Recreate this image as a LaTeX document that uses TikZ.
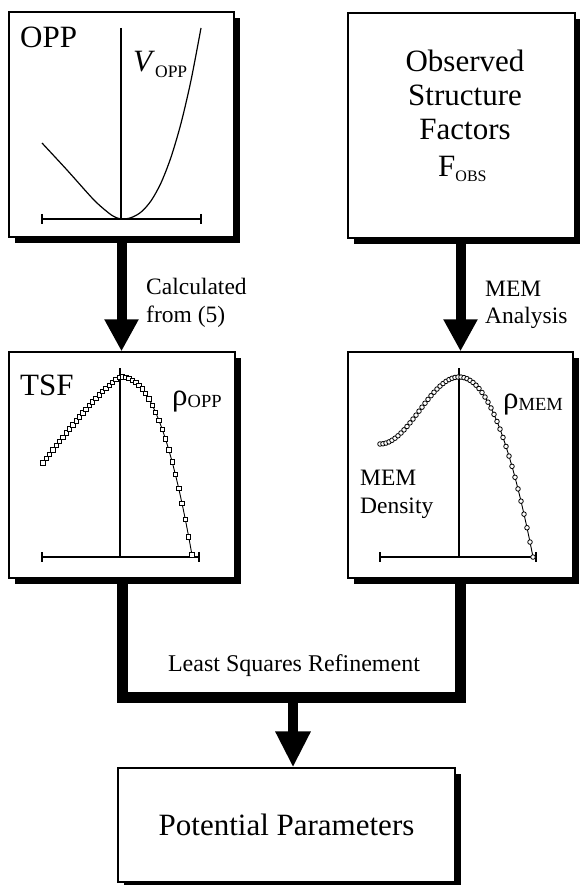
\documentclass[tikz,border=0pt]{standalone}
\usepackage{fontspec}
\setmainfont{Liberation Serif}
\usetikzlibrary{arrows.meta,shadows,plotmarks}
\begin{document}
\begin{tikzpicture}[x=1pt,y=-1pt,
  box/.style={draw, fill=white, line width=1.2pt, inner sep=0pt,
    drop shadow={shadow xshift=6pt, shadow yshift=-6pt, opacity=1, fill=black}},
  big/.style={font=\fontsize{31}{34}\selectfont, inner sep=0pt},
  lab/.style={font=\fontsize{23.5}{28}\selectfont, inner sep=0pt},
  flow/.style={line width=10pt, -{Triangle[width=32pt,length=32pt]}},
  axisline/.style={line width=2.2pt},
  tick/.style={line width=2pt},
  vline/.style={line width=1.6pt},
  curve/.style={line width=1.2pt},
  dotcurve/.style={line width=0.9pt}]
\useasboundingbox (0,0) rectangle (579,885);

% boxes
\node[box, minimum width=225pt, minimum height=225pt] (opp) at (121.5,124.5) {};
\node[box, minimum width=227pt, minimum height=225pt] (obs) at (461.5,125.5) {};
\node[box, minimum width=226pt, minimum height=226pt] (tsf) at (122,465) {};
\node[box, minimum width=225pt, minimum height=226pt] (mem) at (460.5,465) {};
\node[box, big, minimum width=337pt, minimum height=114pt] (pp) at (286.5,825) {Potential Parameters};

% connectors
\draw[flow] (opp.south) -- (opp.south |- tsf.north);
\draw[flow] (mem.north |- obs.south) -- (mem.north);
\coordinate (j) at (293,697.5);
\draw[line width=11pt, line join=miter] (tsf.south) |- (j) -| (mem.south);
\draw[line width=10pt, -{Triangle[width=33pt,length=36pt]}] (j) -- (j |- pp.north);

% labels on connectors
\node[lab, anchor=base west] (calc1) at (146,294) {Calculated};
\node[lab, anchor=base west] (calc2) at (146,322) {from (5)};
\node[lab, anchor=base west] (mema1) at (485,296) {MEM};
\node[lab, anchor=base west] (mema2) at (485,323) {Analysis};
\node[font=\fontsize{24}{28}\selectfont, inner sep=0pt, anchor=base] (lsr) at (294,671) {Least Squares Refinement};

% OPP box content
\node[big, anchor=base west] (oppt) at (20,48) {OPP};
\draw[vline] (121,28) -- (121,219);
\draw[axisline] (42,219) -- (201,219);
\draw[tick] (42,214) -- (42,224);
\draw[tick] (201,214) -- (201,224);
\draw[curve] plot[smooth] coordinates {(42,143) (67,170) (93,199) (105,210) (113,216) (121,219)
  (131,217.7) (141,212.1) (151,200.9) (161,182.9) (171,157.2) (181,123.3) (191,80.4) (201,28)};
\node[big, anchor=base west] (vopp) at (133,72) {\textit{V}\raisebox{-6pt}{\fontsize{17.5}{17.5}\selectfont OPP}};

% Observed box content
\node[big, anchor=base] (obs1) at (465,72) {Observed};
\node[big, anchor=base] (obs2) at (465,106) {Structure};
\node[big, anchor=base] (obs3) at (465,140) {Factors};
\node[big, anchor=base west] (fobs) at (438,177) {F\raisebox{-5pt}{\fontsize{16}{16}\selectfont OBS}};

% TSF box content
\node[big, anchor=base west] (tsft) at (20,395) {TSF};
\draw[vline] (120,368) -- (120,557);
\draw[axisline] (42,557) -- (199,557);
\draw[tick] (42,552) -- (42,562);
\draw[tick] (199,552) -- (199,562);
\draw[dotcurve] plot[domain=43:192, samples=46, mark=square*, mark size=2.2pt,
  mark options={fill=white, line width=0.8pt}]
  (\x, {\x<120 ? 377+86*pow(abs(120-\x)/77+0.0001,1.2) : 377+178*pow(abs(\x-120)/72+0.0001,2.3)});
\node[big, anchor=base west] (rhoopp) at (172,405) {ρ\raisebox{-2pt}{\fontsize{18.5}{18.5}\selectfont OPP}};

% MEM box content
\draw[vline] (459,368) -- (459,557);
\draw[axisline] (380,557) -- (536,557);
\draw[tick] (380,552) -- (380,562);
\draw[tick] (536,552) -- (536,562);
\draw[dotcurve] plot[domain=380:533, samples=52, mark=*, mark size=2.3pt,
  mark options={fill=white, line width=0.8pt}]
  (\x, {\x<459 ? 377+67*(1-cos(180*abs(459-\x)/79))/2 : 377+180*pow(abs(\x-459)/74+0.0001,2.1)});
\node[big, anchor=base west] (rhomem) at (503,408) {ρ\raisebox{-2pt}{\fontsize{18.5}{18.5}\selectfont MEM}};
\node[lab, anchor=base west] (memd1) at (360,485) {MEM};
\node[lab, anchor=base west] (memd2) at (360,513) {Density};
\end{tikzpicture}
\end{document}
